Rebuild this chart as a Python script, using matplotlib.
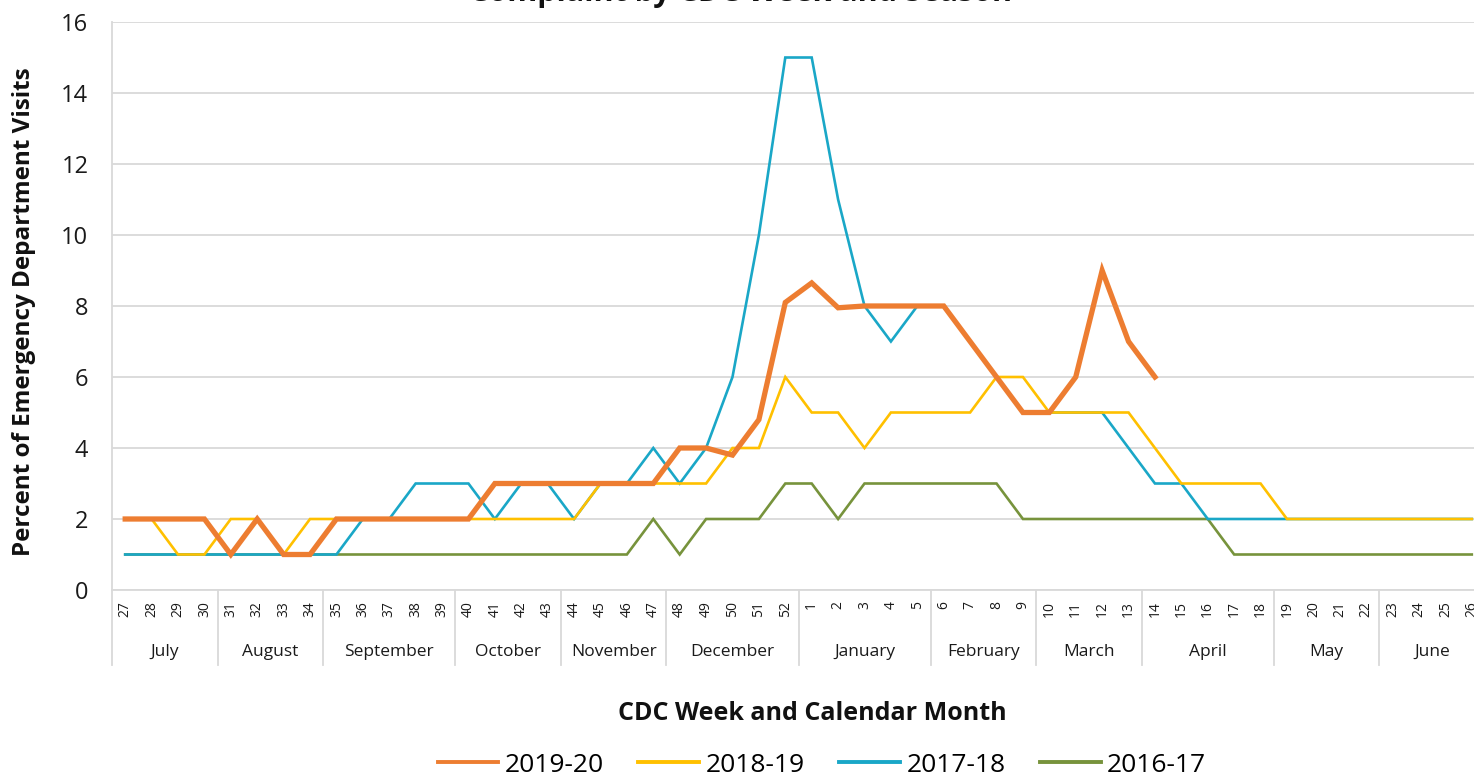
import matplotlib.pyplot as plt

plt.rcParams["font.family"] = ["Open Sans", "DejaVu Sans"]

weeks = [27, 28, 29, 30, 31, 32, 33, 34, 35, 36, 37, 38, 39, 40, 41, 42, 43,
         44, 45, 46, 47, 48, 49, 50, 51, 52, 1, 2, 3, 4, 5, 6, 7, 8, 9, 10,
         11, 12, 13, 14, 15, 16, 17, 18, 19, 20, 21, 22, 23, 24, 25, 26]

months = ["July", "August", "September", "October", "November", "December",
          "January", "February", "March", "April", "May", "June"]
weeks_per_month = [4, 4, 5, 4, 4, 5, 5, 4, 4, 5, 4, 4]

s2019 = [2, 2, 2, 2, 1, 2, 1, 1, 2, 2, 2, 2, 2, 2, 3, 3, 3, 3, 3, 3, 3, 4,
         4, 3.8, 4.8, 8.1, 8.65, 7.95, 8, 8, 8, 8, 7, 6, 5, 5, 6, 9, 7, 6]
s2018 = [2, 2, 1, 1, 2, 2, 1, 2, 2, 2, 2, 2, 2, 2, 2, 2, 2, 2, 3, 3, 3, 3,
         3, 4, 4, 6, 5, 5, 4, 5, 5, 5, 5, 6, 6, 5, 5, 5, 5, 4, 3, 3, 3, 3,
         2, 2, 2, 2, 2, 2, 2, 2]
s2017 = [1, 1, 1, 1, 1, 1, 1, 1, 1, 2, 2, 3, 3, 3, 2, 3, 3, 2, 3, 3, 4, 3,
         4, 6, 10, 15, 15, 11, 8, 7, 8, 8, 7, 6, 5, 5, 5, 5, 4, 3, 3, 2, 2,
         2, 2, 2, 2, 2, 2, 2, 2, 2]
s2016 = [1, 1, 1, 1, 1, 1, 1, 1, 1, 1, 1, 1, 1, 1, 1, 1, 1, 1, 1, 1, 2, 1,
         2, 2, 2, 3, 3, 2, 3, 3, 3, 3, 3, 3, 2, 2, 2, 2, 2, 2, 2, 2, 1, 1,
         1, 1, 1, 1, 1, 1, 1, 1]

seasons = ["2019-20", "2018-19", "2017-18", "2016-17"]
series = [s2019, s2018, s2017, s2016]
colors = ["#ED7D31", "#FFC000", "#1AA7C7", "#77933C"]
widths = [3.8, 1.9, 1.9, 1.9]

W, H = 1474, 777
fig = plt.figure(figsize=(W / 100, H / 100), dpi=100)

# plot area in pixels: left 112, right 1485 (runs off the image), y 22..590
left_px, right_px, top_px, bottom_px = 112, 1485, 22, 590
ax = fig.add_axes([left_px / W, 1 - bottom_px / H,
                   (right_px - left_px) / W, (bottom_px - top_px) / H])

#
# Lines
#
for i in reversed(range(len(series))):
    vals = series[i]
    ax.plot(range(len(vals)), vals, color=colors[i], lw=widths[i],
            label=seasons[i], zorder=3 + (len(series) - i),
            solid_joinstyle="miter", clip_on=False)

ax.set_xlim(-0.5, len(weeks) - 0.5)
ax.set_ylim(0, 16)
ax.set_yticks(range(0, 17, 2))
ax.tick_params(axis="y", length=0, pad=17, labelsize=17, labelcolor="#1a1a1a")
ax.grid(axis="y", color="#D9D9D9", lw=1.3)
ax.set_axisbelow(True)

for side in ["top", "right"]:
    ax.spines[side].set_visible(False)
ax.spines["left"].set_color("#D9D9D9")
ax.spines["left"].set_linewidth(1.3)
ax.spines["bottom"].set_color("#D9D9D9")
ax.spines["bottom"].set_linewidth(1.3)

#
# Week ticks
#
ax.set_xticks(range(len(weeks)))
ax.set_xticklabels([str(w) for w in weeks], rotation=90, fontsize=10,
                   color="#1a1a1a")
ax.tick_params(axis="x", length=0, pad=8)

#
# Month groups
#
ax_h = bottom_px - top_px
sep_bottom = -(665 - bottom_px) / ax_h
month_y = -(652 - bottom_px) / ax_h
trans = ax.get_xaxis_transform()
start = -0.5
ax.plot([start, start], [0, sep_bottom], color="#D9D9D9", lw=1.3,
        transform=trans, clip_on=False)
for name, n in zip(months, weeks_per_month):
    end = start + n
    ax.plot([end, end], [0, sep_bottom], color="#D9D9D9", lw=1.3,
            transform=trans, clip_on=False)
    ax.text((start + end) / 2, month_y, name, transform=trans,
            ha="center", va="center", fontsize=12.5, color="#1a1a1a")
    start = end

#
# Labels
#
ax.set_ylabel("Percent of Emergency Department Visits", fontsize=17.5,
              fontweight="bold", color="#111111")
ax.yaxis.set_label_coords(-(112 - 36) / (right_px - left_px), 0.49)

fig.text(812 / W, 1 - 714 / H, "CDC Week and Calendar Month", ha="center",
         va="center", fontsize=18, fontweight="bold", color="#111111")

fig.text(740 / W, 1 - 1 / H, "Complaint by CDC Week and Season",
         ha="center", va="baseline", fontsize=22, fontweight="bold",
         color="#111111")

handles, labels = ax.get_legend_handles_labels()
order = [labels.index(s) for s in seasons]
leg = fig.legend([handles[i] for i in order], [labels[i] for i in order],
                 loc="center", bbox_to_anchor=(822 / W, 1 - 765 / H),
                 ncol=4, frameon=False, fontsize=19, handlelength=2.3,
                 columnspacing=1.3, handletextpad=0.25)
for line in leg.get_lines():
    line.set_linewidth(2.8)

fig.savefig("out.png", dpi=100)
